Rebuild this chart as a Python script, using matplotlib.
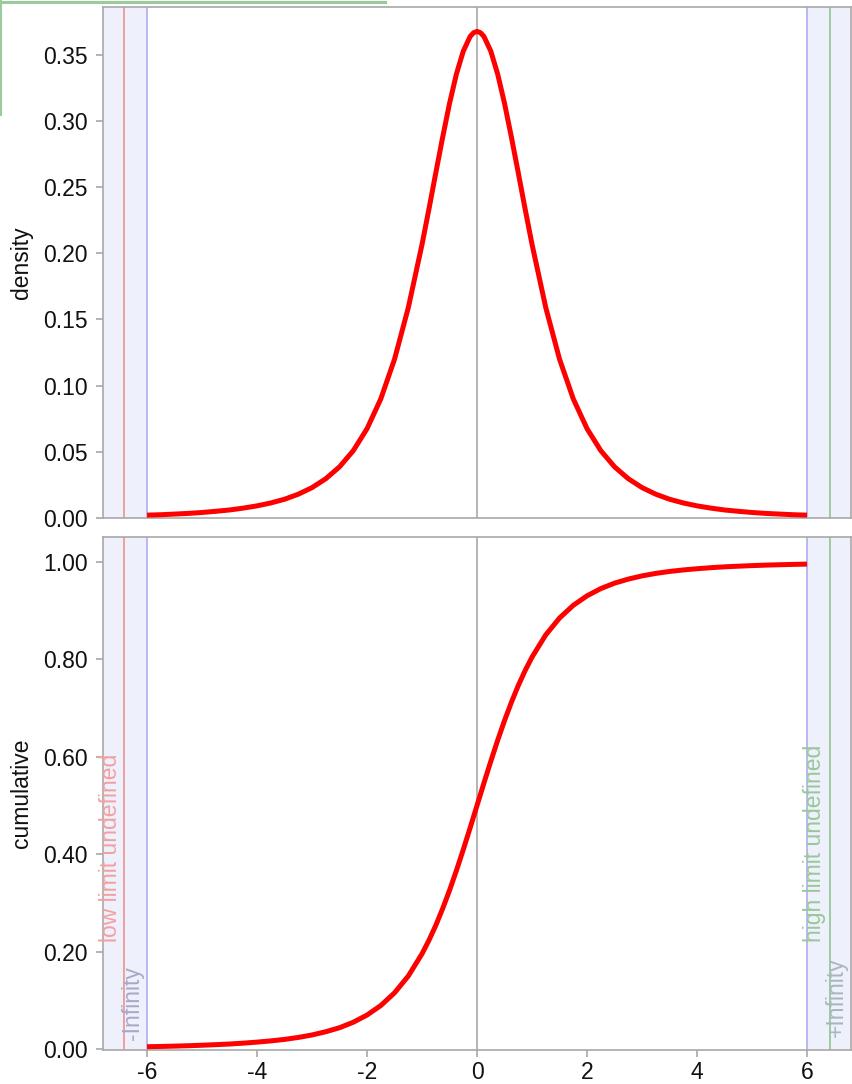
import numpy as np
import matplotlib
matplotlib.use("Agg")
import matplotlib.pyplot as plt
from matplotlib.lines import Line2D

# values
x_vals = [-6.0, -5.75, -5.5, -5.25, -5.0, -4.75, -4.5, -4.25, -4.0, -3.75, -3.5,
          -3.25, -3.0, -2.75, -2.5, -2.25, -2.0, -1.75, -1.5, -1.25, -1.0,
          -0.875, -0.75, -0.625, -0.5, -0.375, -0.25, -0.125, -0.0625, 0.0,
          0.0625, 0.125, 0.25, 0.375, 0.5, 0.625, 0.75, 0.875,
          1.0, 1.25, 1.5, 1.75, 2.0, 2.25, 2.5, 2.75, 3.0, 3.25, 3.5,
          3.75, 4.0, 4.25, 4.5, 4.75, 5.0, 5.25, 5.5, 5.75, 6.0]

density = [0.0022, 0.0025, 0.0030, 0.0035, 0.0042, 0.0051, 0.0061, 0.0075, 0.0092, 0.0114, 0.0142,
           0.0180, 0.0230, 0.0297, 0.0387, 0.0509, 0.0675, 0.0900, 0.1200, 0.1589, 0.2067,
           0.2333, 0.2607, 0.2877, 0.3132, 0.3354, 0.3527, 0.3638, 0.3666, 0.3676,
           0.3666, 0.3638, 0.3527, 0.3354, 0.3132, 0.2877, 0.2607, 0.2333,
           0.2067, 0.1589, 0.1200, 0.0900, 0.0675, 0.0509, 0.0387, 0.0297, 0.0230, 0.0180, 0.0142,
           0.0114, 0.0092, 0.0075, 0.0061, 0.0051, 0.0042, 0.0035, 0.0030, 0.0025, 0.0022]

cumulative = [0.0046, 0.0052, 0.0059, 0.0067, 0.0077, 0.0089, 0.0102, 0.0120, 0.0141, 0.0166, 0.0197,
              0.0237, 0.0288, 0.0354, 0.0437, 0.0549, 0.0697, 0.0892, 0.1153, 0.1498, 0.1955,
              0.2230, 0.2538, 0.2882, 0.3257, 0.3663, 0.4094, 0.4542, 0.4771, 0.5000,
              0.5229, 0.5458, 0.5906, 0.6337, 0.6743, 0.7118, 0.7462, 0.7770,
              0.8045, 0.8502, 0.8847, 0.9108, 0.9303, 0.9451, 0.9563, 0.9646, 0.9712, 0.9763, 0.9803,
              0.9834, 0.9859, 0.9880, 0.9898, 0.9911, 0.9923, 0.9933, 0.9941, 0.9948, 0.9954]

density_ticks = [0.00, 0.05, 0.10, 0.15, 0.20, 0.25, 0.30, 0.35]
cumulative_ticks = [0.00, 0.20, 0.40, 0.60, 0.80, 1.00]
x_ticks = [-6, -4, -2, 0, 2, 4, 6]

X_LIM = 6.8
LOW_LIMIT = -6.42
HIGH_LIMIT = 6.42

plt.rcParams['font.family'] = ['Liberation Sans', 'DejaVu Sans']
plt.rcParams['axes.unicode_minus'] = False

FS = 16.5
GRAY = '#a8a8a8'
SHADE = '#eef0fc'
BLUE = '#a8a8f0'
RED = '#ff0000'


def style_axes(ax, yticks, fmt):
    for s in ax.spines.values():
        s.set_color(GRAY)
        s.set_linewidth(1.2)
    ax.set_xlim(-X_LIM, X_LIM)
    ax.set_yticks(yticks)
    ax.set_yticklabels([fmt % v for v in yticks])
    ax.tick_params(axis='y', colors=GRAY, labelcolor='#111111', labelsize=FS,
                   length=5, width=1.2, pad=6)
    ax.tick_params(axis='x', colors=GRAY, labelcolor='#111111', labelsize=FS,
                   length=5, width=1.2, pad=3)
    # out-of-range bands and limit lines
    ax.axvspan(-X_LIM, -6, color=SHADE, zorder=0, lw=0)
    ax.axvspan(6, X_LIM, color=SHADE, zorder=0, lw=0)
    ax.axvline(-6, color=BLUE, lw=1.1, zorder=1)
    ax.axvline(6, color=BLUE, lw=1.1, zorder=1)
    ax.axvline(LOW_LIMIT, color='#f08888', lw=1.1, zorder=1)
    ax.axvline(HIGH_LIMIT, color='#88c088', lw=1.1, zorder=1)
    ax.axvline(0, color='#a0a0a0', lw=1.1, zorder=1)


fig = plt.figure(figsize=(8.53, 10.84), dpi=100)
ax1 = fig.add_axes([0.1208, 0.5221, 0.8769, 0.4714])
ax2 = fig.add_axes([0.1208, 0.0314, 0.8769, 0.4732])

# density panel
style_axes(ax1, density_ticks, '%.2f')
ax1.set_ylim(0, 0.386)
ax1.set_xticks([])
ax1.plot(x_vals, density, color=RED, lw=3.6, solid_capstyle='butt',
         solid_joinstyle='round', zorder=3)
ax1.set_ylabel('density', fontsize=FS, color='#111111')
ax1.yaxis.set_label_coords(-0.094, 0.5)

# cumulative panel
style_axes(ax2, cumulative_ticks, '%.2f')
ax2.set_ylim(-0.002, 1.051)
ax2.set_xticks(x_ticks)
ax2.set_xticklabels([str(v) for v in x_ticks])
ax2.plot(x_vals, cumulative, color=RED, lw=3.6, solid_capstyle='butt',
         solid_joinstyle='round', zorder=3)
ax2.set_ylabel('cumulative', fontsize=FS, color='#111111')
ax2.yaxis.set_label_coords(-0.094, 0.5)

ax2.text(-6.67, 0.22, 'low limit undefined', rotation=90, rotation_mode='anchor',
         ha='left', va='center', fontsize=FS, color='#f4a0a0', zorder=4)
ax2.text(-6.27, 0.018, '-Infinity', rotation=90, rotation_mode='anchor',
         ha='left', va='center', fontsize=FS, color='#a8a8c8', zorder=4)
ax2.text(6.13, 0.22, 'high limit undefined', rotation=90, rotation_mode='anchor',
         ha='left', va='center', fontsize=FS, color='#98c898', zorder=4)
ax2.text(6.53, 0.025, '+Infinity', rotation=90, rotation_mode='anchor',
         ha='left', va='center', fontsize=FS, color='#a8b8b8', zorder=4)

# bits of a green-bordered overlay in the top-left corner of the screenshot
W, H = 853.0, 1084.0
fig.add_artist(Line2D([0, 385 / W], [1 - 1.5 / H, 1 - 1.5 / H], color='#9acb9a',
                      lw=2.2, transform=fig.transFigure))
fig.add_artist(Line2D([1 / W, 1 / W], [1, 1 - 115 / H], color='#9acb9a',
                      lw=1.5, transform=fig.transFigure))

fig.savefig('out.png', dpi=100)
